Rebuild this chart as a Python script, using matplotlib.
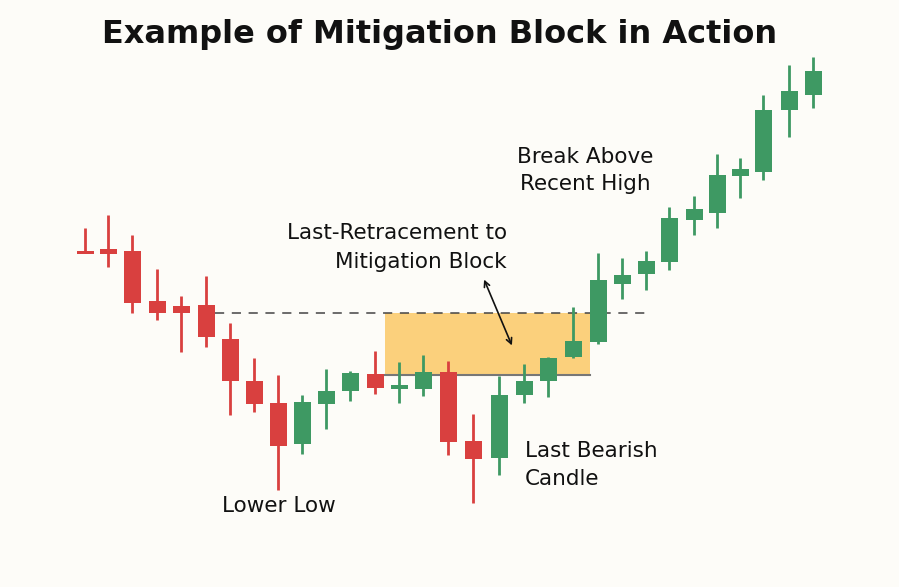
import matplotlib
matplotlib.use("Agg")
import matplotlib.pyplot as plt
from matplotlib.patches import Rectangle

# candle data (price axis drawn inverted)
x_pos = [85, 108, 132, 157, 181, 206, 230, 254, 278, 302, 326, 350, 375, 399, 423,
         448, 473, 499, 524, 548, 573, 598, 622, 646, 669, 694, 717, 740, 763, 789, 813]
opens = [251, 249, 251, 301, 306, 305, 339, 381, 403, 444, 404, 391, 374, 389, 389,
         372, 441, 458, 395, 381, 357, 342, 284, 274, 262, 220, 213, 176, 172, 110, 95]
closes = [251, 254, 303, 313, 313, 337, 381, 404, 446, 402, 391, 373, 388, 385, 372,
          442, 459, 395, 381, 358, 341, 280, 275, 261, 218, 209, 175, 169, 110, 91, 71]
highs = [228, 215, 235, 269, 296, 276, 323, 358, 375, 395, 369, 371, 351, 362, 355,
         361, 414, 376, 364, 357, 307, 253, 258, 251, 207, 196, 154, 158, 95, 65, 57]
lows = [251, 267, 313, 320, 352, 347, 415, 412, 490, 454, 429, 401, 394, 403, 396,
        455, 503, 475, 403, 397, 358, 344, 299, 290, 270, 235, 228, 198, 180, 137, 108]

zone_left, zone_right = 385, 590
zone_top, zone_bottom = 313, 375
dash_left, dash_right = 215, 650

RED = "#d9403f"
GREEN = "#3e9963"
FS = 15.5

fig = plt.figure(figsize=(8.99, 5.87), dpi=100, facecolor="#fdfcf8")
ax = fig.add_axes([0, 0, 1, 1])
ax.set_facecolor("#fdfcf8")
ax.set_xlim(0, 899)
ax.set_ylim(587, 0)
ax.axis("off")

ax.add_patch(Rectangle((zone_left, zone_top), zone_right - zone_left, zone_bottom - zone_top,
                       facecolor="#fbd07c", edgecolor="none", zorder=1))
ax.plot([zone_left, zone_right], [zone_bottom, zone_bottom], color="#777777", lw=1.5, zorder=2)
ax.plot([dash_left, dash_right], [zone_top, zone_top], color="#444444", lw=1.1,
        dashes=(6, 5), zorder=2)

w = 17
for x, o, c, h, l in zip(x_pos, opens, closes, highs, lows):
    col = GREEN if c < o else RED
    ax.plot([x, x], [h, l], color=col, lw=2, zorder=3, solid_capstyle="butt")
    top, bot = min(o, c), max(o, c)
    ax.add_patch(Rectangle((x - w / 2, top), w, max(bot - top, 3), facecolor=col,
                           edgecolor="none", zorder=4))

ax.text(440, 35, "Example of Mitigation Block in Action", ha="center", va="center",
        fontsize=23, fontweight="bold", color="#111111")
ax.text(507, 233, "Last-Retracement to", ha="right", va="center", fontsize=FS, color="#111111")
ax.text(507, 262, "Mitigation Block", ha="right", va="center", fontsize=FS, color="#111111")
ax.text(585, 157, "Break Above", ha="center", va="center", fontsize=FS, color="#111111")
ax.text(585, 184, "Recent High", ha="center", va="center", fontsize=FS, color="#111111")
ax.text(525, 451, "Last Bearish", ha="left", va="center", fontsize=FS, color="#111111")
ax.text(525, 479, "Candle", ha="left", va="center", fontsize=FS, color="#111111")
ax.text(279, 506, "Lower Low", ha="center", va="center", fontsize=FS, color="#111111")

ax.annotate("", xy=(483, 277), xytext=(513, 348),
            arrowprops=dict(arrowstyle="<->", color="#111111", lw=1.2, mutation_scale=10))

fig.savefig("out.png", dpi=100, facecolor=fig.get_facecolor())
